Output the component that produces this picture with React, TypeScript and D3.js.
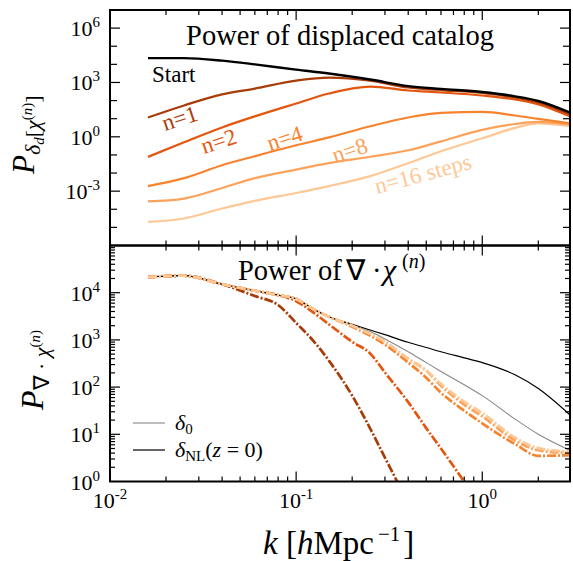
import React from 'react';
import * as d3 from 'd3';

// ---------- data ----------
const kTop = [0.016, 0.025, 0.04, 0.06, 0.1, 0.15, 0.25, 0.4, 0.6, 1.0, 1.5, 2.0, 2.95];
const pStart = [22000, 22000, 16000, 10000, 5100, 3100, 1450, 630, 440, 295, 170, 95, 22];
const pN1 = [11.7, 54, 220, 460, 1260, 1860, 1260, 525, 380, 263, 148, 78, 17.4];
const pN2 = [0.078, 0.5, 3.3, 13.5, 69, 245, 596, 360, 280, 190, 115, 62, 13.5];
const pN4 = [0.0019, 0.0052, 0.027, 0.085, 0.34, 0.93, 3.8, 11.7, 21, 23.5, 15, 9.8, 5.5];
const pN8 = [0.00027, 0.00039, 0.0015, 0.0052, 0.0155, 0.035, 0.079, 0.18, 0.56, 2.4, 5.1, 6.6, 4.8];
const pN16 = [0.00002, 0.000031, 0.00011, 0.00029, 0.00079, 0.0019, 0.0068, 0.035, 0.16, 0.83, 3.1, 5.5, 3.9];

const kBot = [0.016, 0.025, 0.04, 0.06, 0.08, 0.1, 0.125, 0.15, 0.2, 0.25, 0.3, 0.4, 0.5, 0.6, 0.8, 1.0, 1.5, 2.0, 2.95];
const pDeltaNL = [21400, 22900, 15100, 11000, 8900, 7400, 4400, 3090, 2140, 1620, 1290, 890, 690, 560, 417, 331, 182, 93, 26];
const pDelta0 = [21400, 22900, 15100, 11000, 8900, 7400, 4400, 3090, 2040, 1510, 1050, 560, 330, 215, 112, 66, 21, 10, 4.6];
const pChi1 = [21400, 22900, 15100, 8500, 5500, 2290, 912, 363, 66, 13.2, 3.2, 0.35];
const pChi2 = [21400, 22900, 15100, 11000, 8900, 6600, 3700, 2140, 912, 513, 204, 48, 13.5, 5.0, 0.99, 0.275];
const pChi4 = [21400, 22900, 15100, 11000, 8900, 7400, 4400, 3090, 1905, 1230, 794, 331, 158, 76, 31.6, 17, 6.2, 3.5, 3.6];
const pChi8 = [21400, 22900, 15100, 11000, 8900, 7400, 4400, 3090, 2000, 1350, 912, 398, 224, 107, 42.7, 24, 7.4, 4.6, 4.0];
const pChi16 = [21400, 22900, 15100, 11000, 8900, 7400, 4400, 3090, 2000, 1350, 912, 398, 224, 117, 49, 28.2, 8.5, 5.1, 4.3];

const stepLabels = ['n=1', 'n=2', 'n=4', 'n=8', 'n=16 steps'];
const stepColors = ['#a83c08', '#e4560f', '#f8832f', '#fca25a', '#fdc896'];
const yTopTicks = [1e-3, 1, 1e3, 1e6];
const yTopExp = ['-3', '0', '3', '6'];
const yBotTicks = [1, 10, 100, 1000, 10000];
const yBotExp = ['0', '1', '2', '3', '4'];
const xTicks = [0.01, 0.1, 1];
const xExp = ['-2', '-1', '0'];

// ---------- layout ----------
const W = 573, H = 561;
const L = 110, R = 570, T1 = 10, B1 = 245.5, T2 = 245.5, B2 = 481.5;
const SERIF = 'Liberation Serif';

const x = d3.scaleLog().domain([0.01, 2.96]).range([L, R]);
const yTop = d3.scaleLog().domain([1e-6, 1e7]).range([B1, T1]);
const yBot = d3.scaleLog().domain([1, 1e5]).range([B2, T2]);

const lineTop = (ks: number[], ps: number[]) =>
  d3.line<number>().x((_, i) => x(ks[i])).y((p) => yTop(p)).curve(d3.curveMonotoneX)(ps) || '';
const lineBot = (ks: number[], ps: number[]) =>
  d3.line<number>().x((_, i) => x(ks[i])).y((p) => yBot(p)).curve(d3.curveMonotoneX)(ps) || '';

function xMinor(): { v: number; major: boolean }[] {
  const out: { v: number; major: boolean }[] = [];
  for (let e = -2; e <= 0; e++) {
    for (let m = 1; m <= 9; m++) {
      const v = m * Math.pow(10, e);
      if (v >= 0.01 && v <= 2.96) out.push({ v, major: m === 1 });
    }
  }
  return out;
}

function T(props: any) {
  const { children, ...rest } = props;
  return <text fontFamily={SERIF} {...rest}>{children}</text>;
}

export default function App() {
  const xt = xMinor();
  const topYt: { v: number; major: boolean }[] = [];
  for (let e = -5; e <= 6; e++) topYt.push({ v: Math.pow(10, e), major: e % 3 === 0 });
  const botYt: { v: number; major: boolean }[] = [];
  for (let e = 0; e <= 4; e++) {
    for (let m = 1; m <= 9; m++) {
      const v = m * Math.pow(10, e);
      if (v > 1 && v < 1e5) botYt.push({ v, major: m === 1 });
    }
  }
  const topSeries = [pN16, pN8, pN4, pN2, pN1];
  const topColors = [stepColors[4], stepColors[3], stepColors[2], stepColors[1], stepColors[0]];
  const chiSeries = [pChi1, pChi2, pChi4, pChi8, pChi16];

  const xTickMarks = (yEdge: number, dir: number) =>
    xt.map((t, i) => (
      <line key={`${yEdge}-${i}`} x1={x(t.v)} x2={x(t.v)} y1={yEdge} y2={yEdge + dir * (t.major ? 10 : 5)}
        stroke="#000" strokeWidth={1.2} />
    ));

  const labelPos = [
    { x: 165, y: 131, r: -18 },
    { x: 204, y: 154, r: -18 },
    { x: 270, y: 151, r: -18 },
    { x: 335, y: 163, r: -18 },
    { x: 377, y: 194, r: -15 },
  ];

  return (
    <svg width={W} height={H} fontFamily={SERIF} style={{ position: 'absolute', left: 0, top: 0, background: '#fff' }}>
      <defs>
        <clipPath id="clipTop"><rect x={L} y={T1} width={R - L} height={B1 - T1} /></clipPath>
        <clipPath id="clipBot"><rect x={L} y={T2} width={R - L} height={B2 - T2} /></clipPath>
      </defs>
      <rect x={0} y={0} width={W} height={H} fill="#fff" />

      {/* ---------------- top panel ---------------- */}
      <g clipPath="url(#clipTop)">
        {topSeries.map((s, i) => (
          <path key={i} d={lineTop(kTop, s)} fill="none" stroke={topColors[i]} strokeWidth={2.2} />
        ))}
        <path d={lineTop(kTop, pStart)} fill="none" stroke="#000" strokeWidth={2.4} />
      </g>
      <T x={(L + R) / 2} y={45} textAnchor="middle" fontSize={28.5}>Power of displaced catalog</T>
      <T x={152} y={82} fontSize={23}>Start</T>
      {stepLabels.map((t, i) => (
        <T key={t} transform={`translate(${labelPos[i].x},${labelPos[i].y}) rotate(${labelPos[i].r})`}
          fontSize={23} fill={stepColors[i]}>{t}</T>
      ))}
      {topYt.map((t, i) => (
        <g key={`ty${i}`}>
          <line x1={L} x2={L + (t.major ? 10 : 7)} y1={yTop(t.v)} y2={yTop(t.v)} stroke="#000" strokeWidth={1.2} />
          <line x1={R} x2={R - (t.major ? 10 : 7)} y1={yTop(t.v)} y2={yTop(t.v)} stroke="#000" strokeWidth={1.2} />
        </g>
      ))}
      {xTickMarks(T1, 1)}
      {xTickMarks(B1, -1)}
      {yTopTicks.map((v, i) => (
        <T key={`tyl${i}`} x={100} y={yTop(v) + 8} textAnchor="end" fontSize={22}>
          10<tspan dy={-9} fontSize={15}>{yTopExp[i]}</tspan>
        </T>
      ))}
      <T transform={`translate(34,174) rotate(-90)`} fontSize={31}>
        <tspan fontStyle="italic">P</tspan>
        <tspan fontSize={22} dy={6} fontStyle="italic">δ</tspan>
        <tspan fontSize={15} dy={4} fontStyle="italic">d</tspan>
        <tspan fontSize={22} dy={-4}>[</tspan>
        <tspan fontSize={22} fontStyle="italic">χ</tspan>
        <tspan fontSize={15} dy={-8}>(</tspan>
        <tspan fontSize={15} fontStyle="italic">n</tspan>
        <tspan fontSize={15}>)</tspan>
        <tspan fontSize={22} dy={8}>]</tspan>
      </T>

      {/* ---------------- bottom panel ---------------- */}
      <g clipPath="url(#clipBot)">
        <path d={lineBot(kBot, pDelta0)} fill="none" stroke="#888" strokeWidth={1.1} />
        <path d={lineBot(kBot, pDeltaNL)} fill="none" stroke="#000" strokeWidth={1.2} />
        {chiSeries.map((s, i) => (
          <path key={i} d={lineBot(kBot, s)} fill="none" stroke={stepColors[i]} strokeWidth={2.7}
            strokeDasharray="9,2,2,2" />
        ))}
      </g>
      <T x={238} y={280} fontSize={28.5}>
        Power of<tspan x={346}>∇</tspan><tspan x={372}>·</tspan>
        <tspan x={383} fontStyle="italic" fontSize={30}>χ</tspan>
        <tspan x={402} dy={-12} fontSize={20}>(</tspan><tspan fontSize={20} fontStyle="italic">n</tspan><tspan fontSize={20}>)</tspan>
      </T>
      {botYt.map((t, i) => (
        <g key={`by${i}`}>
          <line x1={L} x2={L + (t.major ? 10 : 5)} y1={yBot(t.v)} y2={yBot(t.v)} stroke="#000" strokeWidth={1.2} />
          <line x1={R} x2={R - (t.major ? 10 : 5)} y1={yBot(t.v)} y2={yBot(t.v)} stroke="#000" strokeWidth={1.2} />
        </g>
      ))}
      {xTickMarks(T2, 1)}
      {xTickMarks(B2, -1)}
      {yBotTicks.map((v, i) => (
        <T key={`byl${i}`} x={100} y={yBot(v) + 8} textAnchor="end" fontSize={22}>
          10<tspan dy={-9} fontSize={15}>{yBotExp[i]}</tspan>
        </T>
      ))}
      {xTicks.map((v, i) => (
        <T key={`xl${i}`} x={x(v)} y={508} textAnchor="middle" fontSize={22}>
          10<tspan dy={-9} fontSize={15}>{xExp[i]}</tspan>
        </T>
      ))}
      <T transform={`translate(43,410) rotate(-90)`} fontSize={32}>
        <tspan fontStyle="italic">P</tspan>
        <tspan fontSize={22} dy={6}>∇ · </tspan>
        <tspan fontSize={22} fontStyle="italic">χ</tspan>
        <tspan fontSize={15} dy={-9}>(</tspan>
        <tspan fontSize={15} fontStyle="italic">n</tspan>
        <tspan fontSize={15}>)</tspan>
      </T>
      <T x={263} y={554} fontSize={33}>
        <tspan fontStyle="italic">k</tspan> [<tspan fontStyle="italic">h</tspan>Mpc
        <tspan dx={4} dy={-13} fontSize={21}>−1</tspan><tspan dx={3} dy={13}>]</tspan>
      </T>

      {/* legend */}
      <line x1={133} x2={165} y1={423} y2={423} stroke="#888" strokeWidth={1.1} />
      <T x={175} y={430} fontSize={22}>
        <tspan fontStyle="italic">δ</tspan><tspan fontSize={15} dy={4}>0</tspan>
      </T>
      <line x1={133} x2={165} y1={450} y2={450} stroke="#000" strokeWidth={1.2} />
      <T x={175} y={457} fontSize={22}>
        <tspan fontStyle="italic">δ</tspan><tspan fontSize={15} dy={4}>NL</tspan>
        <tspan dy={-4}>(</tspan><tspan fontStyle="italic">z</tspan> = 0)
      </T>

      {/* frames */}
      <rect x={L} y={T1} width={R - L} height={B1 - T1} fill="none" stroke="#000" strokeWidth={2} />
      <rect x={L} y={T2} width={R - L} height={B2 - T2} fill="none" stroke="#000" strokeWidth={2} />
    </svg>
  );
}
